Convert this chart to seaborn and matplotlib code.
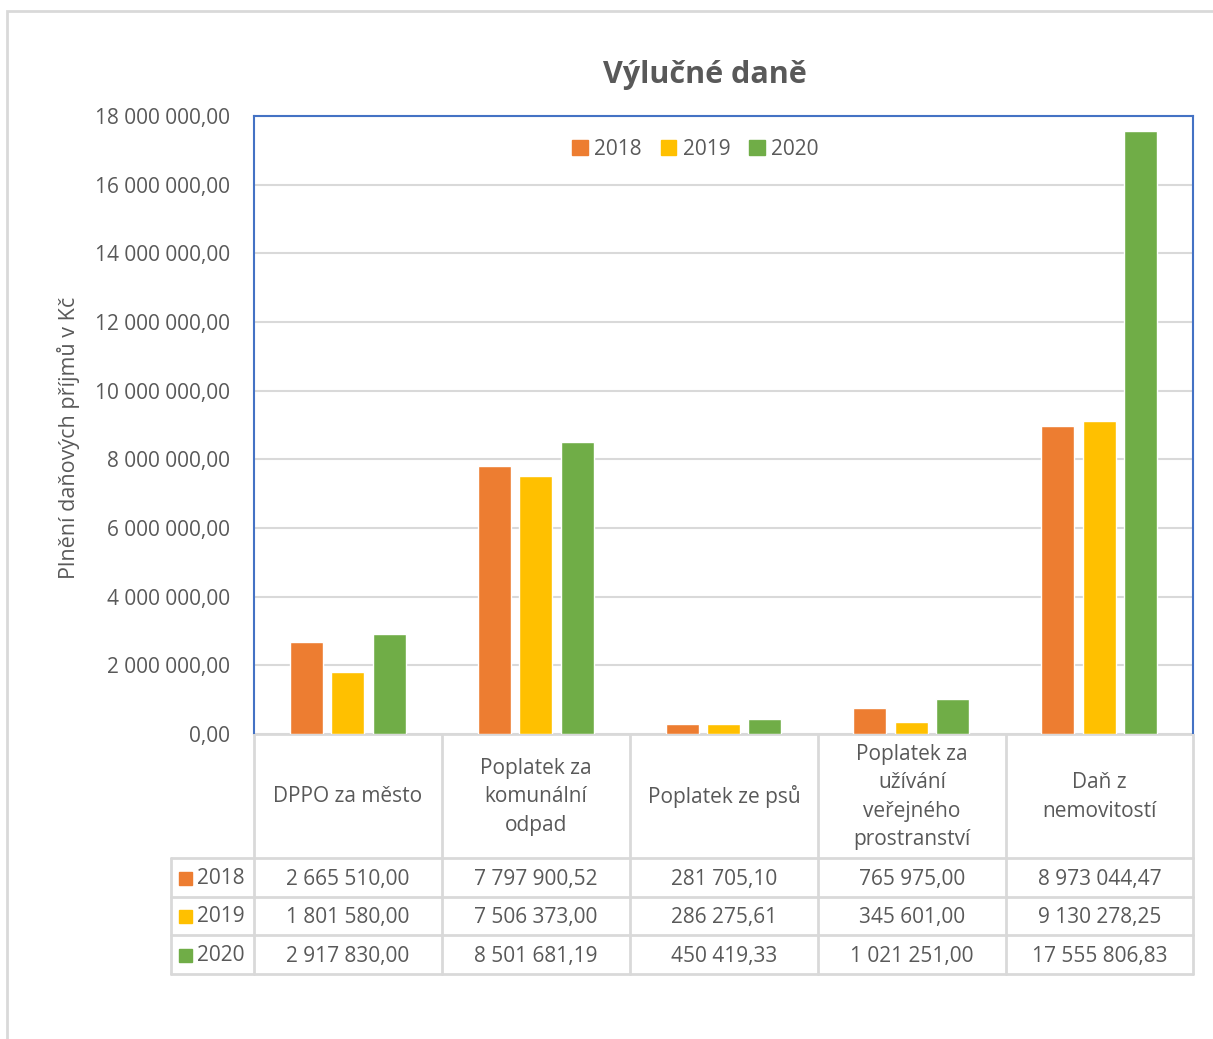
import numpy as np
import pandas as pd
import matplotlib
matplotlib.use("Agg")
import matplotlib.pyplot as plt
from matplotlib.patches import Rectangle
from matplotlib.lines import Line2D
import seaborn as sns

# data
kategorie = ["DPPO za město", "Poplatek za\nkomunální\nodpad", "Poplatek ze psů",
             "Poplatek za\nužívání\nveřejného\nprostranství", "Daň z\nnemovitostí"]
roky = ["2018", "2019", "2020"]
hodnoty_2018 = [2665510.00, 7797900.52, 281705.10, 765975.00, 8973044.47]
hodnoty_2019 = [1801580.00, 7506373.00, 286275.61, 345601.00, 9130278.25]
hodnoty_2020 = [2917830.00, 8501681.19, 450419.33, 1021251.00, 17555806.83]
barvy = ["#ED7D31", "#FFC000", "#70AD47"]

rows = []
for rok, vals in zip(roky, [hodnoty_2018, hodnoty_2019, hodnoty_2020]):
    for k, v in zip(kategorie, vals):
        rows.append({"kategorie": k, "rok": rok, "hodnota": v})
df = pd.DataFrame(rows)


def cz(x):
    s = f"{x:,.2f}"
    return s.replace(",", " ").replace(".", ",")


sns.set_style("white")
plt.rcParams['font.family'] = ['Open Sans', 'DejaVu Sans']
sedy = "#595959"
fs = 15

W, H = 1213, 1039
fig = plt.figure(figsize=(W / 100, H / 100), dpi=100)

def fx(px):
    return px / W

def fy(py):
    return 1 - py / H

# outer frame of the chart area
fig.add_artist(Rectangle((fx(7), fy(1060)), fx(1240 - 7), (1060 - 11) / H,
                         transform=fig.transFigure, fill=False,
                         edgecolor="#D9D9D9", linewidth=2))

L, R, T, B = 254, 1193, 116, 734
ax = fig.add_axes([fx(L), fy(B), fx(R - L), (B - T) / H])
sns.barplot(data=df, x="kategorie", y="hodnota", hue="rok", palette=barvy,
            width=0.662, gap=0.205, ax=ax, legend=False, saturation=1)
ax.set_ylim(0, 18000000)
ax.set_xlim(-0.5, 4.5)
ax.set_yticks(np.arange(0, 18000001, 2000000))
ax.set_yticklabels([cz(t) for t in ax.get_yticks()], fontsize=fs, color=sedy)
ax.set_xticks([])
ax.set_xlabel("")
ax.set_ylabel("")
ax.tick_params(axis="y", length=0, pad=17)
ax.yaxis.grid(True, color="#D9D9D9", linewidth=1.5)
ax.set_axisbelow(True)
for s in ["left", "top", "right"]:
    ax.spines[s].set_color("#4472C4")
    ax.spines[s].set_linewidth(1.5)
ax.spines["bottom"].set_visible(False)

fig.text(fx(69), fy(438), "Plnění daňových příjmů v Kč", rotation=90,
         ha="center", va="center", fontsize=15.5, color=sedy)

handles = [Rectangle((0, 0), 1, 1, color=c) for c in barvy]
ax.legend(handles, roky, loc="upper center", bbox_to_anchor=(0.47, 0.993), ncol=3,
          frameon=False, fontsize=fs, labelcolor=sedy, handlelength=0.75,
          handleheight=0.75, handletextpad=0.3, columnspacing=0.9)

fig.text(fx(705), fy(75), "Výlučné daně", ha="center", va="center",
         fontsize=22, fontweight="bold", color=sedy)

# data table under the chart
tab = fig.add_axes([fx(150), fy(1000), fx(1213 - 150), (1000 - B) / H])
tab.set_xlim(150, 1213)
tab.set_ylim(1000, B)
tab.axis("off")
cara = dict(color="#D9D9D9", linewidth=2)
cols = [254, 442, 630, 818, 1006, 1193]
rady = [858, 897, 935, 974]
tab.add_line(Line2D([254, 1193], [B, B], **cara))
for y in rady:
    tab.add_line(Line2D([171, 1193], [y, y], **cara))
for x in cols:
    tab.add_line(Line2D([x, x], [B, 974], **cara))
tab.add_line(Line2D([171, 171], [858, 974], **cara))

for i, k in enumerate(kategorie):
    xc = (cols[i] + cols[i + 1]) / 2
    tab.text(xc, (B + 858) / 2 + 1, k, ha="center", va="center", fontsize=fs,
             color=sedy, linespacing=1.45)
    for j, vals in enumerate([hodnoty_2018, hodnoty_2019, hodnoty_2020]):
        yc = (rady[j] + rady[j + 1]) / 2
        tab.text(xc, yc + 2, cz(vals[i]), ha="center", va="center", fontsize=fs,
                 color=sedy)

for j, rok in enumerate(roky):
    yc = (rady[j] + rady[j + 1]) / 2
    tab.add_patch(Rectangle((179, yc - 6), 13, 13, color=barvy[j]))
    tab.text(197, yc + 1, rok, ha="left", va="center", fontsize=fs, color=sedy)

fig.savefig("out.png", dpi=100)
